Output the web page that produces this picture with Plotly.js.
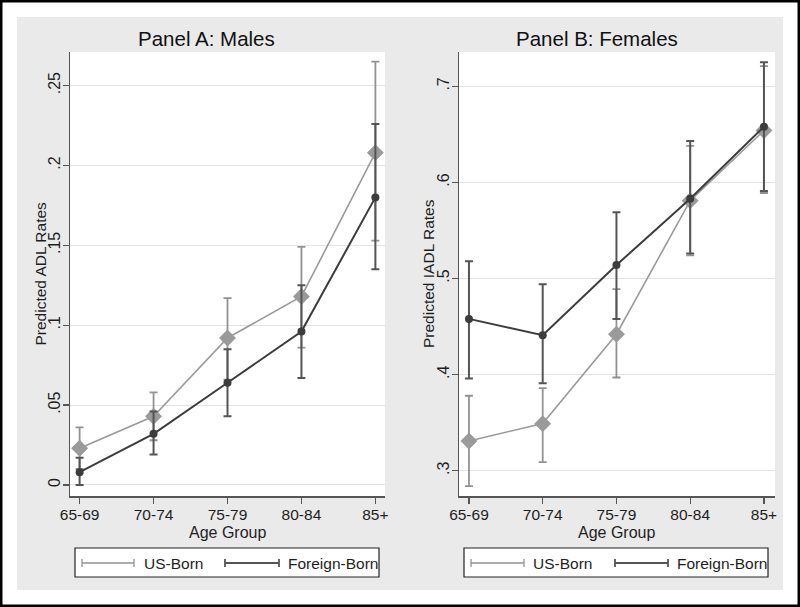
<!DOCTYPE html>
<html>
<head>
<meta charset="utf-8">
<script src="https://cdn.plot.ly/plotly-3.0.1.min.js"></script>
<style>html,body{margin:0;padding:0;background:#fff;}#chart{width:800px;height:607px;}</style>
</head>
<body>
<div id="chart"></div>
<script>
// ---------- data ----------
const ageGroups = ['65-69', '70-74', '75-79', '80-84', '85+'];

const maleUS     = [0.023, 0.043, 0.092, 0.118, 0.208];
const maleUSLow  = [0.010, 0.028, 0.066, 0.086, 0.153];
const maleUSHigh = [0.036, 0.058, 0.117, 0.149, 0.265];
const maleFB     = [0.008, 0.032, 0.064, 0.096, 0.180];
const maleFBLow  = [0.000, 0.019, 0.043, 0.067, 0.135];
const maleFBHigh = [0.017, 0.046, 0.085, 0.125, 0.226];

const femaleUS     = [0.331, 0.349, 0.442, 0.581, 0.654];
const femaleUSLow  = [0.284, 0.309, 0.397, 0.524, 0.589];
const femaleUSHigh = [0.378, 0.386, 0.489, 0.638, 0.721];
const femaleFB     = [0.458, 0.441, 0.514, 0.583, 0.658];
const femaleFBLow  = [0.396, 0.391, 0.458, 0.526, 0.591];
const femaleFBHigh = [0.518, 0.494, 0.569, 0.643, 0.725];

const maleTicks = [0, 0.05, 0.1, 0.15, 0.2, 0.25];
const maleTickText = ['0', '.05', '.1', '.15', '.2', '.25'];
const femaleTicks = [0.3, 0.4, 0.5, 0.6, 0.7];
const femaleTickText = ['.3', '.4', '.5', '.6', '.7'];

const seriesNames = ['US-Born', 'Foreign-Born'];
const panelTitles = ['Panel A: Males', 'Panel B: Females'];
const yTitles = ['Predicted ADL Rates', 'Predicted IADL Rates'];
const xTitle = 'Age Group';

// ---------- styling ----------
const W = 800, H = 607;
const px = x => x / W;
const py = y => 1 - y / H;
const FONT = 'Liberation Sans, Arial, sans-serif';
const TXT = '#1e1e1e';
const usColor = '#9a9a9a', usBar = '#929292';
const fbColor = '#3c3c3c', fbBar = '#555555';

function diff(a, b) { return a.map((v, i) => v - b[i]); }

function makeTrace(vals, lo, hi, isUS, xa, ya) {
  return {
    x: ageGroups, y: vals, xaxis: xa, yaxis: ya,
    type: 'scatter', mode: 'lines+markers', showlegend: false,
    line: {color: isUS ? usColor : fbColor, width: isUS ? 1.6 : 2},
    marker: isUS ? {symbol: 'diamond', size: 13, color: usColor}
                 : {symbol: 'circle', size: 8, color: fbColor},
    error_y: {type: 'data', symmetric: false,
      array: diff(hi, vals), arrayminus: diff(vals, lo),
      color: isUS ? usBar : fbBar, thickness: isUS ? 1.8 : 2, width: 4}
  };
}

const data = [
  makeTrace(maleUS, maleUSLow, maleUSHigh, true, 'x', 'y'),
  makeTrace(maleFB, maleFBLow, maleFBHigh, false, 'x', 'y'),
  makeTrace(femaleUS, femaleUSLow, femaleUSHigh, true, 'x2', 'y2'),
  makeTrace(femaleFB, femaleFBLow, femaleFBHigh, false, 'x2', 'y2')
];

function xAxis(domain, anchor, range) {
  return {
    domain: domain, anchor: anchor, type: 'category', range: range,
    showline: true, linecolor: '#555', linewidth: 1.5, mirror: false,
    ticks: 'outside', ticklen: 6, tickwidth: 1.2, tickcolor: '#555',
    ticklabelstandoff: -2,
    showgrid: false, zeroline: false,
    tickfont: {family: FONT, size: 15.5, color: TXT}
  };
}
function yAxis(domain, anchor, range, tv, tt) {
  return {
    domain: domain, anchor: anchor, range: range,
    tickvals: tv, ticktext: tt, tickangle: -90, ticklabelstandoff: -4,
    showline: true, linecolor: '#555', linewidth: 1.5,
    ticks: 'outside', ticklen: 6, tickwidth: 1.2, tickcolor: '#555',
    showgrid: true, gridcolor: '#e3e3e3', gridwidth: 1, zeroline: false,
    tickfont: {family: FONT, size: 16, color: TXT}
  };
}

const yDom = [py(496), py(52)];
const shapes = [
  // white margin + black frame
  {type: 'rect', xref: 'paper', yref: 'paper', x0: 0, x1: 1, y0: 0, y1: 1,
   line: {color: '#ffffff', width: 34}, fillcolor: 'rgba(0,0,0,0)', layer: 'above'},
  {type: 'rect', xref: 'paper', yref: 'paper', x0: 0, x1: 1, y0: 0, y1: 1,
   line: {color: '#000000', width: 5}, fillcolor: 'rgba(0,0,0,0)', layer: 'above'}
];
const annotations = [];

function addLegend(bx0, bx1, usL0, usL1, usT, fbL0, fbL1, fbT) {
  const by0 = 548, by1 = 577, ly = 563;
  shapes.push({type: 'rect', xref: 'paper', yref: 'paper', x0: px(bx0), x1: px(bx1), y0: py(by1), y1: py(by0),
    line: {color: '#222', width: 1.2}, fillcolor: '#ffffff', layer: 'above'});
  [[usL0, usL1, usBar, 1.3], [fbL0, fbL1, fbBar, 1.8]].forEach(([a, b, c, w]) => {
    shapes.push({type: 'line', xref: 'paper', yref: 'paper', x0: px(a), x1: px(b), y0: py(ly), y1: py(ly), line: {color: c, width: w}, layer: 'above'});
    [a, b].forEach(e => shapes.push({type: 'line', xref: 'paper', yref: 'paper', x0: px(e), x1: px(e), y0: py(ly - 4), y1: py(ly + 4), line: {color: c, width: w}, layer: 'above'}));
  });
  annotations.push({xref: 'paper', yref: 'paper', x: px(usT), y: py(ly), xanchor: 'left', yanchor: 'middle',
    text: seriesNames[0], showarrow: false, font: {family: FONT, size: 15.5, color: TXT}});
  annotations.push({xref: 'paper', yref: 'paper', x: px(fbT), y: py(ly), xanchor: 'left', yanchor: 'middle',
    text: seriesNames[1], showarrow: false, font: {family: FONT, size: 15.5, color: TXT}});
}
addLegend(75, 379, 82, 134, 142, 225, 279, 286);
addLegend(464, 768, 471, 524, 531, 615, 668, 675);

// panel titles
[[207, panelTitles[0]], [597, panelTitles[1]]].forEach(([x, t]) => {
  annotations.push({xref: 'paper', yref: 'paper', x: px(x), y: py(38), xanchor: 'center', yanchor: 'middle',
    text: t, showarrow: false, font: {family: FONT, size: 20.5, color: '#111'}});
});
// axis titles
[227, 616].forEach(x => annotations.push({xref: 'paper', yref: 'paper', x: px(x), y: py(532), xanchor: 'center', yanchor: 'middle',
  text: xTitle, showarrow: false, font: {family: FONT, size: 16, color: TXT}}));
[[39.5, yTitles[0]], [428, yTitles[1]]].forEach(([x, t]) => {
  annotations.push({xref: 'paper', yref: 'paper', x: px(x), y: py(274), xanchor: 'center', yanchor: 'middle',
    text: t, textangle: -90, showarrow: false, font: {family: FONT, size: 15.5, color: TXT}});
});

const layout = {
  width: W, height: H,
  margin: {l: 0, r: 0, t: 0, b: 0},
  paper_bgcolor: '#eaeaea', plot_bgcolor: '#ffffff',
  showlegend: false,
  xaxis: xAxis([px(70), px(385)], 'y', [-0.13, 4.13]),
  yaxis: yAxis(yDom, 'x', [-0.0069, 0.271], maleTicks, maleTickText),
  xaxis2: xAxis([px(459), px(775)], 'y2', [-0.135, 4.15]),
  yaxis2: yAxis(yDom, 'x2', [0.2737, 0.7357], femaleTicks, femaleTickText),
  shapes: shapes, annotations: annotations
};

Plotly.newPlot('chart', data, layout, {staticPlot: true, displayModeBar: false});
</script>
</body>
</html>
